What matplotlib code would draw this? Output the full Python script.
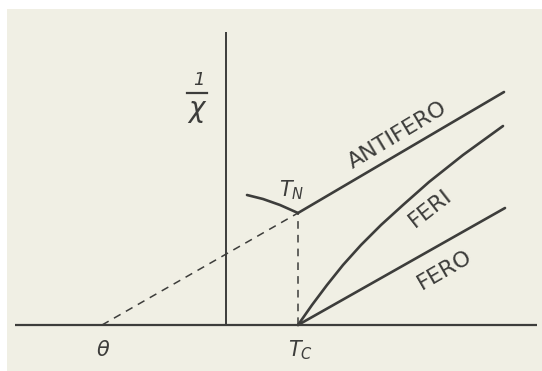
import numpy as np
import matplotlib.pyplot as plt

plt.rcParams['mathtext.fontset'] = 'dejavusans'

# temperature axis (arbitrary units, origin at the 1/chi axis)
theta = -124
T_C = 72
T_N = 72
inv_chi_N = 112

# antiferromagnet: linear above T_N
antifero_T = [72, 278]
antifero_y = [112, 233]

# antiferromagnet below T_N (rises as T decreases)
below_T = [21, 37, 54, 72]
below_y = [130, 126, 120, 112]

# ferrimagnet: curved (hyperbolic) from T_C
feri_T = [72, 86, 101, 117, 135, 155, 177, 203, 237, 277]
feri_y = [0, 20, 40, 60, 80, 100, 120, 143, 170, 199]

# ferromagnet: Curie-Weiss line from T_C
fero_T = [72, 279]
fero_y = [0, 117]

ink = '#3d3d3b'
paper = '#f0efe4'

fig = plt.figure(figsize=(5.42, 3.71), dpi=100, facecolor='white')
ax = fig.add_axes([7 / 542, 0, 535 / 542, 362 / 371])
ax.set_facecolor(paper)
ax.set_xlim(-219, 316)
ax.set_ylim(-46, 316)
ax.set_xticks([])
ax.set_yticks([])
for s in ax.spines.values():
    s.set_visible(False)

# axes of the diagram
ax.plot([-211, 311], [0, 0], color=ink, lw=1.6, solid_capstyle='butt')
ax.plot([0, 0], [0, 293], color=ink, lw=1.4, solid_capstyle='butt')

# extrapolation to theta and drop to T_C
ax.plot([theta, T_N], [0, inv_chi_N], color=ink, lw=1.1, ls=(0, (5, 4)))
ax.plot([T_C, T_C], [0, inv_chi_N], color=ink, lw=1.1, ls=(0, (5, 4)))

line_kw = dict(color=ink, lw=1.9, solid_capstyle='round', solid_joinstyle='round')
ax.plot(antifero_T, antifero_y, **line_kw)
ax.plot(below_T, below_y, **line_kw)
ax.plot(feri_T, feri_y, **line_kw)
ax.plot(fero_T, fero_y, **line_kw)

# 1/chi label
ax.text(-27, 245, '1', fontsize=13, style='italic', color=ink,
        ha='center', va='center')
ax.plot([-39, -19], [232, 232], color=ink, lw=1.6)
ax.text(-29, 214, r'$\chi$', fontsize=20, color=ink, ha='center', va='center')

ax.text(theta + 1, -25, r'$\theta$', fontsize=15, color=ink,
        ha='center', va='center')
ax.text(T_C + 2, -25, r'$T_C$', fontsize=15, color=ink,
        ha='center', va='center')
ax.text(T_N - 6, 135, r'$T_N$', fontsize=15, color=ink,
        ha='center', va='center')

txt_kw = dict(fontsize=16, color=ink, ha='center', va='center',
              rotation_mode='anchor')
ax.text(172, 190, 'ANTIFERO', rotation=31, **txt_kw)
ax.text(204, 117, 'FERI', rotation=38, **txt_kw)
ax.text(219, 55, 'FERO', rotation=30, **txt_kw)

fig.savefig('out.png', dpi=100, facecolor='white')
